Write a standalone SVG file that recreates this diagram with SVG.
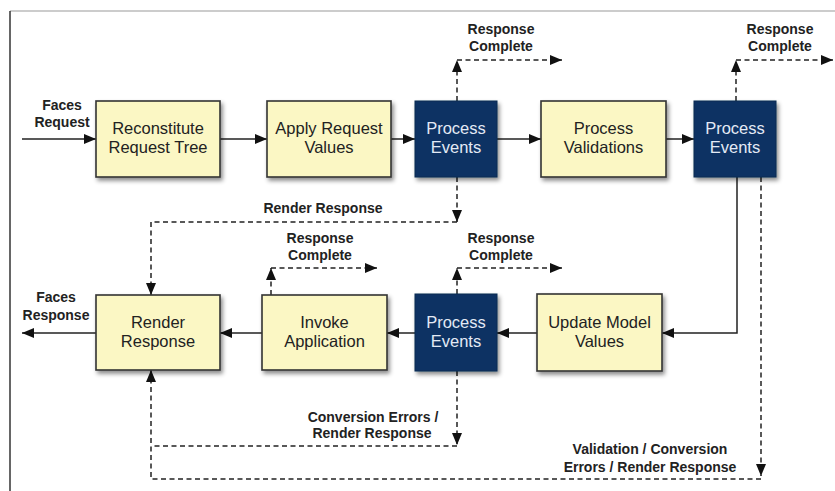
<svg xmlns="http://www.w3.org/2000/svg" width="835" height="491" viewBox="0 0 835 491">
  <style>
    .box { fill: #fbf7c4; stroke: #333; stroke-width: 1.6; }
    .dark { fill: #0d3264; stroke: #0a2850; stroke-width: 1; }
    .bt { font-family: "Liberation Sans", Arial, sans-serif; font-size: 16.5px; fill: #222; text-anchor: middle; }
    .dt { font-family: "Liberation Sans", Arial, sans-serif; font-size: 16.5px; fill: #e3eaf5; text-anchor: middle; }
    .lbl { font-family: "Liberation Sans", Arial, sans-serif; font-size: 14px; font-weight: bold; fill: #222; text-anchor: middle; }
    .solid { fill: none; stroke: #222; stroke-width: 1.5; }
    .dash { fill: none; stroke: #222; stroke-width: 1.5; stroke-dasharray: 5 3.5; }
  </style>
  <defs>
    <marker id="arr" markerUnits="userSpaceOnUse" markerWidth="13" markerHeight="11" refX="12" refY="5" orient="auto">
      <path d="M0,0 L12,5 L0,10 Z" fill="#111" stroke="none"/>
    </marker>
    <filter id="sh" x="-10%" y="-10%" width="130%" height="140%">
      <feDropShadow dx="2" dy="3" stdDeviation="2" flood-color="#000" flood-opacity="0.45"/>
    </filter>
  </defs>
  <rect width="835" height="491" fill="#ffffff"/>
  <g id="frame">
    <line x1="10" y1="11" x2="835" y2="11" stroke="#999" stroke-width="1.2"/>
    <line x1="10" y1="11" x2="10" y2="491" stroke="#333" stroke-width="1.5"/>
  </g>

  <g id="connectors">
    <path class="solid" d="M22,139 H96" marker-end="url(#arr)"/>
    <path class="solid" d="M220,139 H267" marker-end="url(#arr)"/>
    <path class="solid" d="M391,139 H415" marker-end="url(#arr)"/>
    <path class="solid" d="M497,139 H541" marker-end="url(#arr)"/>
    <path class="solid" d="M666,139 H694" marker-end="url(#arr)"/>
    <path class="solid" d="M737,177 V333 H662" marker-end="url(#arr)"/>
    <path class="solid" d="M537,333 H497" marker-end="url(#arr)"/>
    <path class="solid" d="M415,333 H387" marker-end="url(#arr)"/>
    <path class="solid" d="M262,333 H220" marker-end="url(#arr)"/>
    <path class="solid" d="M96,333 H22" marker-end="url(#arr)"/>

    <path class="dash" d="M457,101 V60" marker-end="url(#arr)"/>
    <path class="dash" d="M457,60 H562" marker-end="url(#arr)"/>
    <path class="dash" d="M736,101 V60" marker-end="url(#arr)"/>
    <path class="dash" d="M736,60 H833" marker-end="url(#arr)"/>
    <path class="dash" d="M457,177 V222" marker-end="url(#arr)"/>
    <path class="dash" d="M457,222 H151 V295" marker-end="url(#arr)"/>
    <path class="dash" d="M761,177 V476" marker-end="url(#arr)"/>
    <path class="dash" d="M761,479 H151 V370" marker-end="url(#arr)"/>
    <path class="dash" d="M457,371 V445" marker-end="url(#arr)"/>
    <path class="dash" d="M457,446 H151"/>
    <path class="dash" d="M457,294 V268" marker-end="url(#arr)"/>
    <path class="dash" d="M457,268 H562" marker-end="url(#arr)"/>
    <path class="dash" d="M271,295 V268" marker-end="url(#arr)"/>
    <path class="dash" d="M271,268 H377" marker-end="url(#arr)"/>
  </g>

  <g id="labels">
    <text class="lbl" x="62" y="110">Faces</text>
    <text class="lbl" x="62" y="127">Request</text>
    <text class="lbl" x="56" y="302">Faces</text>
    <text class="lbl" x="56" y="320">Response</text>
    <text class="lbl" x="501" y="34">Response</text>
    <text class="lbl" x="501" y="51">Complete</text>
    <text class="lbl" x="780" y="34">Response</text>
    <text class="lbl" x="780" y="51">Complete</text>
    <text class="lbl" x="323" y="213">Render Response</text>
    <text class="lbl" x="501" y="243">Response</text>
    <text class="lbl" x="501" y="260">Complete</text>
    <text class="lbl" x="320" y="243">Response</text>
    <text class="lbl" x="320" y="260">Complete</text>
    <text class="lbl" x="373" y="422">Conversion Errors /</text>
    <text class="lbl" x="372" y="438">Render Response</text>
    <text class="lbl" x="650" y="454">Validation / Conversion</text>
    <text class="lbl" x="650" y="472">Errors / Render Response</text>
  </g>

  <g id="reconstitute">
    <rect class="box" x="96" y="101" width="124" height="76" filter="url(#sh)"/>
    <text class="bt" x="158" y="134">Reconstitute</text>
    <text class="bt" x="158" y="153">Request Tree</text>
  </g>
  <g id="apply-request">
    <rect class="box" x="267" y="101" width="124" height="76" filter="url(#sh)"/>
    <text class="bt" x="329" y="134">Apply Request</text>
    <text class="bt" x="329" y="153">Values</text>
  </g>
  <g id="process-events-1">
    <rect class="dark" x="415" y="101" width="82" height="76" filter="url(#sh)"/>
    <text class="dt" x="456" y="134">Process</text>
    <text class="dt" x="456" y="153">Events</text>
  </g>
  <g id="process-validations">
    <rect class="box" x="541" y="101" width="125" height="76" filter="url(#sh)"/>
    <text class="bt" x="603.5" y="134">Process</text>
    <text class="bt" x="603.5" y="153">Validations</text>
  </g>
  <g id="process-events-2">
    <rect class="dark" x="694" y="101" width="82" height="76" filter="url(#sh)"/>
    <text class="dt" x="735" y="134">Process</text>
    <text class="dt" x="735" y="153">Events</text>
  </g>
  <g id="render-response">
    <rect class="box" x="96" y="295" width="124" height="75" filter="url(#sh)"/>
    <text class="bt" x="158" y="328">Render</text>
    <text class="bt" x="158" y="347">Response</text>
  </g>
  <g id="invoke-application">
    <rect class="box" x="262" y="295" width="125" height="75" filter="url(#sh)"/>
    <text class="bt" x="324.5" y="328">Invoke</text>
    <text class="bt" x="324.5" y="347">Application</text>
  </g>
  <g id="process-events-3">
    <rect class="dark" x="415" y="294" width="82" height="77" filter="url(#sh)"/>
    <text class="dt" x="456" y="328">Process</text>
    <text class="dt" x="456" y="347">Events</text>
  </g>
  <g id="update-model">
    <rect class="box" x="537" y="294" width="125" height="77" filter="url(#sh)"/>
    <text class="bt" x="599.5" y="328">Update Model</text>
    <text class="bt" x="599.5" y="347">Values</text>
  </g>
</svg>
